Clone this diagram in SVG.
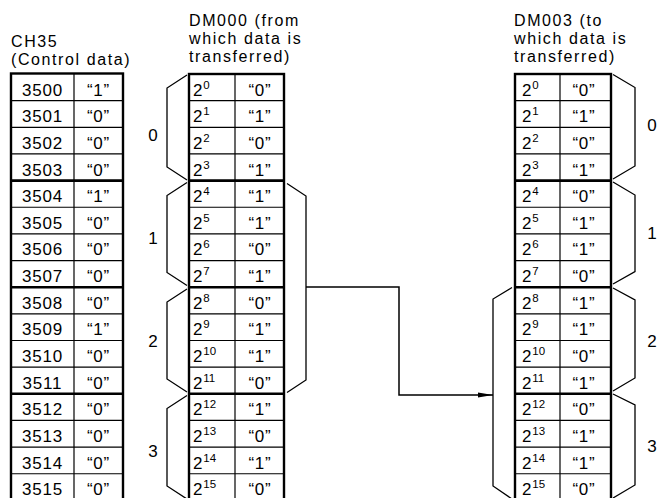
<svg xmlns="http://www.w3.org/2000/svg" width="657" height="498" viewBox="0 0 657 498">
<style>
text{font-family:"Liberation Sans",Arial,sans-serif;fill:#000}
.h{font-size:16px;letter-spacing:1.6px}
.c{font-size:17px;letter-spacing:0.8px}
.m{text-anchor:middle}
.s{font-size:11.5px;letter-spacing:0}
.frame{fill:none;stroke:#000;stroke-width:2.4}
.thin{fill:none;stroke:#000;stroke-width:1.2}
.thick{fill:none;stroke:#000;stroke-width:2.6}
.br{fill:none;stroke:#000;stroke-width:1.3}
.lbl{font-size:17px;text-anchor:middle}
</style>
<defs>
<marker id="ah" markerUnits="userSpaceOnUse" markerWidth="16" markerHeight="8" refX="15" refY="4" orient="auto">
<path d="M0,1.5 L15,4 L0,6.5 Z" fill="#000"/>
</marker>
</defs>
<rect width="657" height="498" fill="#fff"/>

<g id="ch35-table">
<text class="h" x="11" y="47">CH35</text>
<text class="h" x="11" y="65">(Control data)</text>
<rect class="frame" x="11" y="73.5" width="112" height="430"/>
<path class="thin" d="M74,74V500"/>
<path class="thin" d="M11,100.65H123M11,127.3H123M11,153.95H123M11,207.25H123M11,233.9H123M11,260.55H123M11,313.85H123M11,340.5H123M11,367.15H123M11,420.45H123M11,447.1H123M11,473.75H123"/>
<path class="thick" d="M11,180.6H123M11,287.2H123M11,393.8H123"/>
<g class="c">
<text class="m" x="42.5" y="95.5">3500</text><text class="m" x="98.5" y="95.5">“1”</text>
<text class="m" x="42.5" y="122.2">3501</text><text class="m" x="98.5" y="122.2">“0”</text>
<text class="m" x="42.5" y="148.8">3502</text><text class="m" x="98.5" y="148.8">“0”</text>
<text class="m" x="42.5" y="175.5">3503</text><text class="m" x="98.5" y="175.5">“0”</text>
<text class="m" x="42.5" y="202.1">3504</text><text class="m" x="98.5" y="202.1">“1”</text>
<text class="m" x="42.5" y="228.8">3505</text><text class="m" x="98.5" y="228.8">“0”</text>
<text class="m" x="42.5" y="255.4">3506</text><text class="m" x="98.5" y="255.4">“0”</text>
<text class="m" x="42.5" y="282.1">3507</text><text class="m" x="98.5" y="282.1">“0”</text>
<text class="m" x="42.5" y="308.7">3508</text><text class="m" x="98.5" y="308.7">“0”</text>
<text class="m" x="42.5" y="335.4">3509</text><text class="m" x="98.5" y="335.4">“1”</text>
<text class="m" x="42.5" y="362">3510</text><text class="m" x="98.5" y="362">“0”</text>
<text class="m" x="42.5" y="388.7">3511</text><text class="m" x="98.5" y="388.7">“0”</text>
<text class="m" x="42.5" y="415.3">3512</text><text class="m" x="98.5" y="415.3">“0”</text>
<text class="m" x="42.5" y="442">3513</text><text class="m" x="98.5" y="442">“0”</text>
<text class="m" x="42.5" y="468.6">3514</text><text class="m" x="98.5" y="468.6">“0”</text>
<text class="m" x="42.5" y="495.3">3515</text><text class="m" x="98.5" y="495.3">“0”</text>
</g>
</g>

<g id="dm000-table">
<text class="h" x="189" y="26">DM000 (from</text>
<text class="h" x="189" y="44">which data is</text>
<text class="h" x="189" y="62">transferred)</text>
<rect class="frame" x="189" y="74" width="95" height="430"/>
<path class="thin" d="M235,74V500"/>
<path class="thin" d="M189,100.65H284M189,127.3H284M189,153.95H284M189,207.25H284M189,233.9H284M189,260.55H284M189,313.85H284M189,340.5H284M189,367.15H284M189,420.45H284M189,447.1H284M189,473.75H284"/>
<path class="thick" d="M189,180.6H284M189,287.2H284M189,393.8H284"/>
<g class="c">
<text x="193" y="95.5">2<tspan class="s" dy="-7">0</tspan></text><text class="m" x="260" y="95.5">“0”</text>
<text x="193" y="122.2">2<tspan class="s" dy="-7">1</tspan></text><text class="m" x="260" y="122.2">“1”</text>
<text x="193" y="148.8">2<tspan class="s" dy="-7">2</tspan></text><text class="m" x="260" y="148.8">“0”</text>
<text x="193" y="175.5">2<tspan class="s" dy="-7">3</tspan></text><text class="m" x="260" y="175.5">“1”</text>
<text x="193" y="202.1">2<tspan class="s" dy="-7">4</tspan></text><text class="m" x="260" y="202.1">“1”</text>
<text x="193" y="228.8">2<tspan class="s" dy="-7">5</tspan></text><text class="m" x="260" y="228.8">“1”</text>
<text x="193" y="255.4">2<tspan class="s" dy="-7">6</tspan></text><text class="m" x="260" y="255.4">“0”</text>
<text x="193" y="282.1">2<tspan class="s" dy="-7">7</tspan></text><text class="m" x="260" y="282.1">“1”</text>
<text x="193" y="308.7">2<tspan class="s" dy="-7">8</tspan></text><text class="m" x="260" y="308.7">“0”</text>
<text x="193" y="335.4">2<tspan class="s" dy="-7">9</tspan></text><text class="m" x="260" y="335.4">“1”</text>
<text x="193" y="362">2<tspan class="s" dy="-7">10</tspan></text><text class="m" x="260" y="362">“1”</text>
<text x="193" y="388.7">2<tspan class="s" dy="-7">11</tspan></text><text class="m" x="260" y="388.7">“0”</text>
<text x="193" y="415.3">2<tspan class="s" dy="-7">12</tspan></text><text class="m" x="260" y="415.3">“1”</text>
<text x="193" y="442">2<tspan class="s" dy="-7">13</tspan></text><text class="m" x="260" y="442">“0”</text>
<text x="193" y="468.6">2<tspan class="s" dy="-7">14</tspan></text><text class="m" x="260" y="468.6">“1”</text>
<text x="193" y="495.3">2<tspan class="s" dy="-7">15</tspan></text><text class="m" x="260" y="495.3">“0”</text>
</g>
</g>

<g id="dm000-groups">
<path class="br" d="M187,75 L167,88 V167 L187,180"/>
<path class="br" d="M187,182.5 L167,195.5 V272.5 L187,285.5"/>
<path class="br" d="M187,289 L167,302 V379 L187,392"/>
<path class="br" d="M187,395.5 L167,408.5 V486 L187,499"/>
<text class="lbl" x="153" y="140.5">0</text>
<text class="lbl" x="153" y="244">1</text>
<text class="lbl" x="153" y="347">2</text>
<text class="lbl" x="153" y="457">3</text>
<path class="br" d="M287,183.5 L306,196 V380 L287,392.5"/>
</g>

<g id="dm003-table">
<text class="h" x="514" y="26">DM003 (to</text>
<text class="h" x="514" y="44">which data is</text>
<text class="h" x="514" y="62">transferred)</text>
<rect class="frame" x="515" y="74" width="96" height="430"/>
<path class="thin" d="M560,74V500"/>
<path class="thin" d="M515,100.65H611M515,127.3H611M515,153.95H611M515,207.25H611M515,233.9H611M515,260.55H611M515,313.85H611M515,340.5H611M515,367.15H611M515,420.45H611M515,447.1H611M515,473.75H611"/>
<path class="thick" d="M515,180.6H611M515,287.2H611M515,393.8H611"/>
<g class="c">
<text x="522" y="95.5">2<tspan class="s" dy="-7">0</tspan></text><text class="m" x="584" y="95.5">“0”</text>
<text x="522" y="122.2">2<tspan class="s" dy="-7">1</tspan></text><text class="m" x="584" y="122.2">“1”</text>
<text x="522" y="148.8">2<tspan class="s" dy="-7">2</tspan></text><text class="m" x="584" y="148.8">“0”</text>
<text x="522" y="175.5">2<tspan class="s" dy="-7">3</tspan></text><text class="m" x="584" y="175.5">“1”</text>
<text x="522" y="202.1">2<tspan class="s" dy="-7">4</tspan></text><text class="m" x="584" y="202.1">“0”</text>
<text x="522" y="228.8">2<tspan class="s" dy="-7">5</tspan></text><text class="m" x="584" y="228.8">“1”</text>
<text x="522" y="255.4">2<tspan class="s" dy="-7">6</tspan></text><text class="m" x="584" y="255.4">“1”</text>
<text x="522" y="282.1">2<tspan class="s" dy="-7">7</tspan></text><text class="m" x="584" y="282.1">“0”</text>
<text x="522" y="308.7">2<tspan class="s" dy="-7">8</tspan></text><text class="m" x="584" y="308.7">“1”</text>
<text x="522" y="335.4">2<tspan class="s" dy="-7">9</tspan></text><text class="m" x="584" y="335.4">“1”</text>
<text x="522" y="362">2<tspan class="s" dy="-7">10</tspan></text><text class="m" x="584" y="362">“0”</text>
<text x="522" y="388.7">2<tspan class="s" dy="-7">11</tspan></text><text class="m" x="584" y="388.7">“1”</text>
<text x="522" y="415.3">2<tspan class="s" dy="-7">12</tspan></text><text class="m" x="584" y="415.3">“0”</text>
<text x="522" y="442">2<tspan class="s" dy="-7">13</tspan></text><text class="m" x="584" y="442">“1”</text>
<text x="522" y="468.6">2<tspan class="s" dy="-7">14</tspan></text><text class="m" x="584" y="468.6">“1”</text>
<text x="522" y="495.3">2<tspan class="s" dy="-7">15</tspan></text><text class="m" x="584" y="495.3">“0”</text>
</g>
</g>

<g id="dm003-groups">
<path class="br" d="M613,74.5 L635,87.5 V166 L613,179"/>
<path class="br" d="M613,182 L635,195 V271.5 L613,284"/>
<path class="br" d="M613,288 L635,300 V378 L613,391"/>
<path class="br" d="M613,394 L635,405 V485 L613,498"/>
<text class="lbl" x="652" y="130.5">0</text>
<text class="lbl" x="652" y="238.5">1</text>
<text class="lbl" x="652" y="346.5">2</text>
<text class="lbl" x="652" y="451.5">3</text>
<path class="br" d="M512,287.5 L493,299 V486 L512,499"/>
</g>

<g id="connectors">
<path d="M306,287 H399 V395 H493" fill="none" stroke="#000" stroke-width="1.5" marker-end="url(#ah)"/>
</g>
</svg>
